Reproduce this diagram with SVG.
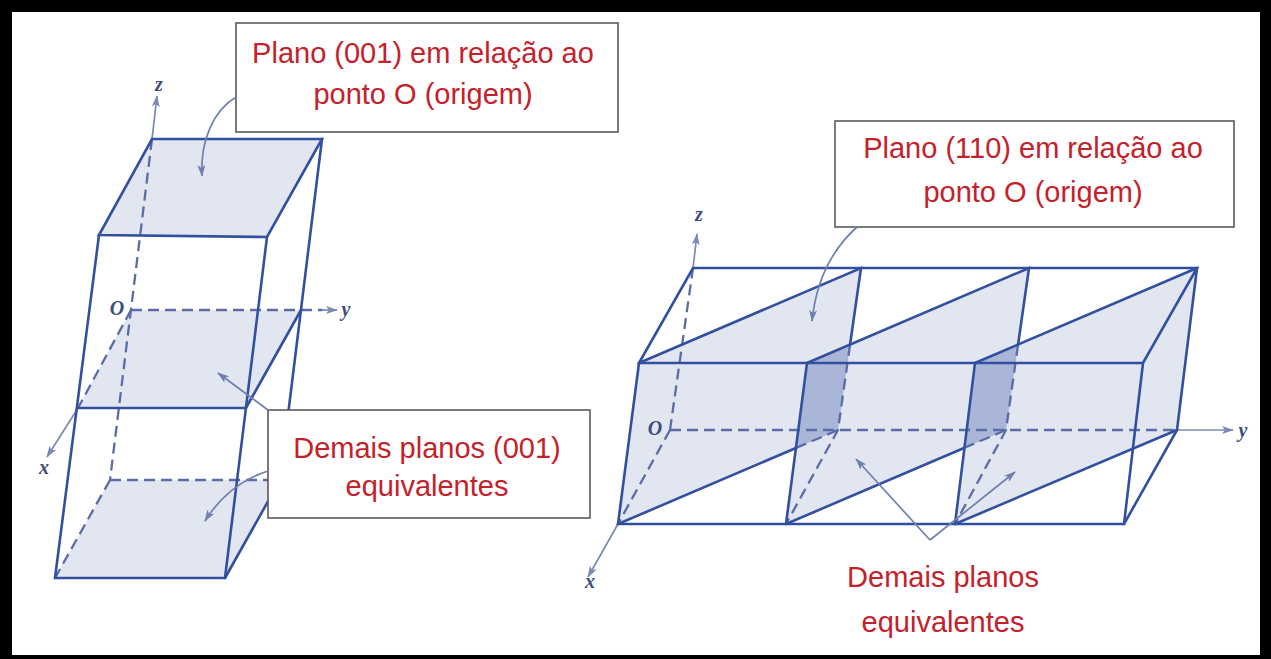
<svg xmlns="http://www.w3.org/2000/svg" width="1271" height="659" viewBox="0 0 1271 659">
<style>
.plane{fill:#e2e6f0;stroke:none}
.dark{fill:#a9b6d8;stroke:none}
.edge{stroke:#3350a0;stroke-width:2.6;fill:none;stroke-linecap:round}
.dash{stroke:#5b6ca6;stroke-width:2.3;fill:none;stroke-dasharray:11 6}
.axis{stroke:#7a8ab5;stroke-width:1.7;fill:none}
.call{stroke:#6f80b0;stroke-width:1.7;fill:none}
.box{fill:#fff;stroke:#5a5a5a;stroke-width:1.6}
.lbl{font-family:"Liberation Sans",Arial,sans-serif;font-size:29px;fill:#c4212b;text-anchor:middle}
.ax{font-family:"Liberation Serif","Times New Roman",serif;font-style:italic;font-weight:bold;font-size:20px;fill:#3d4c7c;text-anchor:middle}
</style>
<defs>
<marker id="arrAx" viewBox="0 0 12 8" refX="11" refY="4" markerWidth="12" markerHeight="8" markerUnits="userSpaceOnUse" orient="auto">
<path d="M0,0 L12,4 L0,8 L3,4 z" fill="#7a8ab5"/>
</marker>
<marker id="arrCall" viewBox="0 0 12 8" refX="11" refY="4" markerWidth="12" markerHeight="8" markerUnits="userSpaceOnUse" orient="auto">
<path d="M0,0 L12,4 L0,8 L3,4 z" fill="#6f80b0"/>
</marker>
</defs>
<rect x="0" y="0" width="1271" height="659" fill="#fff"/>
<path id="frame" d="M0,0 H1271 V659 H0 Z M12,12 V655 H1260 V12 Z" fill="#000" fill-rule="evenodd"/>

<g id="cell-001">
<polygon class="plane" points="152,139 322,139 267,237 99,235"/>
<polygon class="plane" points="131,310 301,310 246,408 78,408"/>
<polygon class="plane" points="110,480 280,480 225,578 55,578"/>
<path class="dash" d="M152,139 L110,480"/>
<path class="dash" d="M131,310 L322,310"/>
<path class="dash" d="M131,310 L78,408"/>
<path class="dash" d="M110,480 L280,480"/>
<path class="dash" d="M110,480 L55,578"/>
<path class="axis" d="M152,139 L157,96" marker-end="url(#arrAx)"/>
<path class="axis" d="M322,310 L337,310" marker-end="url(#arrAx)"/>
<path class="axis" d="M78,408 L47,457" marker-end="url(#arrAx)"/>
<path class="edge" d="M152,139 L322,139 L267,237 L99,235 Z"/>
<path class="edge" d="M99,235 L55,578 L225,578 L267,237"/>
<path class="edge" d="M322,139 L280,480 L225,578"/>
<path class="edge" d="M78,408 L246,408 L301,310"/>
<text class="ax" x="159" y="91">z</text>
<text class="ax" x="117" y="315">O</text>
<text class="ax" x="346" y="316">y</text>
<text class="ax" x="44" y="474">x</text>
</g>

<g id="cell-110">
<polygon class="plane" points="639,363 861,268 838,430 618,524"/>
<polygon class="plane" points="807,363 1029,268 1006,430 786,524"/>
<polygon class="plane" points="975,363 1197,268 1177,430 955,524"/>
<polygon class="dark" points="807,363 850,345 838,430 796,448"/>
<polygon class="dark" points="975,363 1018,345 1006,430 964,448"/>
<path class="dash" d="M670,430 L693,268"/>
<path class="dash" d="M670,430 L1177,430"/>
<path class="dash" d="M670,430 L618,524"/>
<path class="dash" d="M850,345 L838,430 L786,524"/>
<path class="dash" d="M1018,345 L1006,430 L955,524"/>
<path class="dash" d="M796,448 L838,430"/>
<path class="dash" d="M964,448 L1006,430"/>
<path class="axis" d="M693,268 L697,234" marker-end="url(#arrAx)"/>
<path class="axis" d="M1177,430 L1233,430" marker-end="url(#arrAx)"/>
<path class="axis" d="M618,524 L588,577" marker-end="url(#arrAx)"/>
<path class="edge" d="M693,268 L1197,268 L1143,363 L639,363 Z"/>
<path class="edge" d="M639,363 L618,524 L1124,524 L1143,363"/>
<path class="edge" d="M1197,268 L1177,430 L1124,524"/>
<path class="edge" d="M807,363 L786,524"/>
<path class="edge" d="M975,363 L955,524"/>
<path class="edge" d="M639,363 L861,268 L850,345"/>
<path class="edge" d="M807,363 L1029,268 L1018,345"/>
<path class="edge" d="M975,363 L1197,268"/>
<path class="edge" d="M618,524 L796,448"/>
<path class="edge" d="M786,524 L964,448"/>
<path class="edge" d="M955,524 L1177,430"/>
<text class="ax" x="699" y="221">z</text>
<text class="ax" x="655" y="435">O</text>
<text class="ax" x="1243" y="437">y</text>
<text class="ax" x="590" y="588">x</text>
</g>

<g id="label-plane-001">
<rect class="box" x="236" y="23" width="382" height="109"/>
<text class="lbl" x="423" y="63">Plano (001) em relação ao</text>
<text class="lbl" x="423" y="104">ponto O (origem)</text>
</g>

<g id="label-equiv-001">
<rect class="box" x="268" y="410" width="322" height="108"/>
<text class="lbl" x="427" y="458">Demais planos (001)</text>
<text class="lbl" x="427" y="496">equivalentes</text>
</g>

<g id="label-plane-110">
<rect class="box" x="835" y="121" width="399" height="106"/>
<text class="lbl" x="1033" y="158">Plano (110) em relação ao</text>
<text class="lbl" x="1033" y="202">ponto O (origem)</text>
</g>

<g id="label-equiv-110">
<text class="lbl" x="943" y="587">Demais planos</text>
<text class="lbl" x="943" y="632">equivalentes</text>
</g>

<g id="connectors">
<path class="call" d="M236,97 C214,110 200,140 202,176" marker-end="url(#arrCall)"/>
<path class="call" d="M268,410 L218,373" marker-end="url(#arrCall)"/>
<path class="call" d="M268,471 Q228,484 205,521" marker-end="url(#arrCall)"/>
<path class="call" d="M857,227 Q818,262 812,321" marker-end="url(#arrCall)"/>
<path class="call" d="M930,540 L856,459" marker-end="url(#arrCall)"/>
<path class="call" d="M930,540 L1015,472" marker-end="url(#arrCall)"/>
</g>
</svg>
